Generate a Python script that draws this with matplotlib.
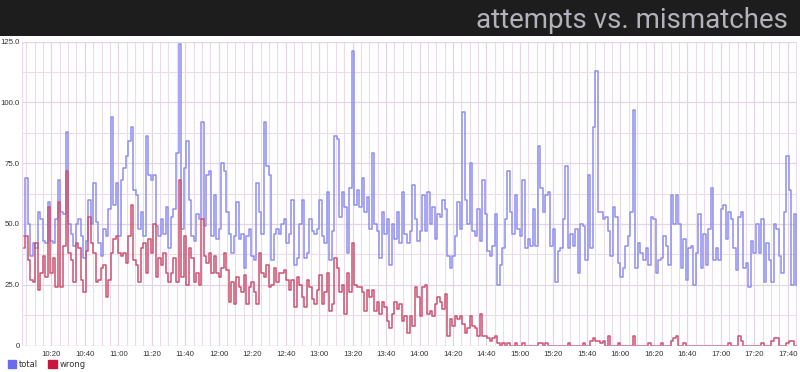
import numpy as np
import pandas as pd
import matplotlib
matplotlib.use("Agg")
import matplotlib.pyplot as plt
import matplotlib.dates as mdates
from matplotlib.patches import Patch

# samples every 90 seconds starting 10:03
start = "2013-01-01 10:03"
step = "90s"

total = [
    45, 69, 50, 37, 42, 40, 55, 52, 43, 42, 59, 43, 42, 52, 68, 55, 54, 88, 50, 46,
    41, 50, 52, 45, 36, 43, 60, 50, 67, 51, 42, 37, 48, 45, 56, 94, 58, 67, 45, 68,
    73, 78, 84, 90, 64, 62, 48, 55, 45, 86, 70, 68,
    70, 49, 45, 52, 46, 57, 40, 53, 56, 79, 124, 48, 73, 84, 60, 45, 43, 54, 52, 92,
    49, 70, 72, 45, 62, 44, 48, 75, 72, 55, 46, 38, 45, 59, 44, 46, 32, 45, 48, 37,
    35, 67, 55, 46, 92, 74, 70, 35, 46, 48, 46, 50,
    52, 42, 46, 60, 33, 36, 50, 60, 36, 38, 52, 47, 46, 48, 60, 45, 42, 63, 35, 47,
    86, 85, 53, 63, 57, 38, 65, 121, 58, 64, 57, 69, 55, 61, 48, 79, 50, 47, 36, 55,
    46, 52, 33, 50, 44, 55, 42, 63, 46, 42, 47, 66,
    52, 43, 47, 62, 47, 63, 50, 57, 44, 54, 53, 60, 56, 37, 32, 37, 45, 59, 48, 96,
    60, 50, 75, 47, 45, 56, 43, 68, 54, 39, 37, 41, 54, 25, 33, 40, 52, 72, 55, 46,
    62, 48, 45, 68, 40, 44, 41, 56, 41, 82, 65, 55,
    62, 63, 41, 48, 26, 39, 40, 52, 74, 40, 46, 41, 48, 30, 50, 49, 35, 70, 40, 90,
    113, 55, 55, 52, 53, 47, 37, 57, 53, 34, 28, 32, 41, 45, 55, 97, 32, 42, 38, 35,
    40, 33, 53, 52, 30, 35, 36, 45, 41, 33, 62, 50,
    62, 50, 32, 44, 27, 40, 41, 25, 38, 54, 32, 46, 33, 48, 65, 35, 40, 35, 56, 58,
    44, 55, 52, 40, 31, 53, 55, 32, 34, 24, 43, 38, 50, 38, 52, 26, 42, 35, 26, 50,
    48, 37, 30, 55, 78, 64, 25, 54, 25, 40, 26,
]

wrong = [
    40, 45, 35, 27, 26, 42, 23, 30, 37, 28, 57, 30, 36, 24, 59, 24, 41, 72, 38, 35,
    26, 42, 40, 27, 22, 39, 53, 42, 38, 26, 27, 32, 33, 20, 27, 38, 44, 45, 38, 37,
    38, 34, 45, 58, 35, 33, 26, 40, 42, 30, 44, 38,
    50, 28, 36, 33, 38, 30, 26, 30, 36, 26, 68, 28, 45, 25, 40, 36, 26, 30, 25, 52,
    37, 34, 38, 30, 37, 30, 28, 32, 38, 31, 18, 26, 17, 28, 24, 22, 29, 17, 24, 26,
    22, 17, 38, 30, 28, 33, 24, 25, 32, 26, 30, 30,
    31, 27, 23, 27, 16, 28, 25, 20, 16, 27, 24, 19, 17, 23, 29, 17, 22, 30, 14, 17,
    36, 32, 22, 25, 13, 30, 22, 42, 25, 24, 24, 22, 14, 23, 20, 23, 14, 18, 13, 18,
    16, 10, 7, 13, 18, 15, 17, 10, 12, 5, 12, 8,
    24, 20, 12, 24, 25, 13, 14, 12, 17, 20, 18, 15, 21, 4, 11, 8, 12, 11, 12, 9,
    5, 7, 12, 8, 7, 4, 13, 4, 4, 3, 2, 3, 4, 1, 0, 1, 0, 1, 0, 0,
    1, 0, 0, 1, 0, 0, 0, 0, 0, 1, 1, 0,
    1, 0, 0, 0, 0, 0, 0, 0, 0, 1, 0, 0, 0, 0, 0, 1, 0, 0, 2, 3,
    2, 2, 1, 2, 0, 4, 0, 0, 0, 1, 0, 0, 0, 0, 0, 4, 0, 0, 0, 0,
    0, 1, 0, 0, 0, 0, 1, 0, 0, 0, 2, 3,
    4, 0, 0, 1, 0, 0, 0, 0, 0, 0, 0, 0, 0, 0, 0, 0, 0, 0, 0, 0,
    0, 1, 0, 0, 0, 4, 2, 0, 0, 0, 0, 0, 0, 0, 1, 0, 0, 0, 2, 3,
    3, 0, 0, 0, 1, 2, 2, 0, 0, 0, 0,
]

yticks = [0, 25, 50, 75, 100, 125]
ytick_labels = ["0", "25.0", "50.0", "75.0", "100.0", "125.0"]
title = "attempts vs. mismatches"

times = pd.date_range(start, periods=len(total), freq=step)

fig = plt.figure(figsize=(8, 3.72), dpi=100)

# dark header band
hdr = fig.add_axes([0, 1 - 36 / 372, 1, 36 / 372])
hdr.set_facecolor("#1d1d1d")
hdr.set_xticks([])
hdr.set_yticks([])
for s in hdr.spines.values():
    s.set_visible(False)
hdr.text(0.985, 0.06, title, transform=hdr.transAxes, ha="right", va="bottom",
         fontsize=20, color="#b2b2ba", family="Roboto")

ax = fig.add_axes([22 / 800, 26.5 / 372, 775 / 800, 303.8 / 372])
grid_c = "#eadcea"
ax.step(times, total, where="post", color="#8f8ff0", lw=1.1)
ax.step(times, wrong, where="post", color="#cc5272", lw=1.1)

ax.set_ylim(0, 125)
ax.set_xlim(pd.Timestamp("2013-01-01 10:02:30"), pd.Timestamp("2013-01-01 17:45:30"))

ax.set_yticks(yticks)
ax.set_yticklabels(ytick_labels)
ax.set_yticks(np.arange(12.5, 125, 25), minor=True)
ax.xaxis.set_major_locator(mdates.MinuteLocator(byminute=[0, 20, 40]))
ax.xaxis.set_major_formatter(mdates.DateFormatter("%H:%M"))
ax.xaxis.set_minor_locator(mdates.MinuteLocator(byminute=range(0, 60, 5)))

ax.grid(True, which="major", color="#e2d6e2", lw=0.9)
ax.grid(True, which="minor", color=grid_c, lw=0.8)
ax.set_axisbelow(True)
ax.tick_params(which="both", length=0, labelsize=5.6, labelcolor="#333333")
ax.tick_params(axis="y", pad=1.5)
ax.tick_params(axis="x", pad=4)
for lab in ax.get_xticklabels() + ax.get_yticklabels():
    lab.set_family("Liberation Sans")
for s in ax.spines.values():
    s.set_visible(False)
ax.axvline(ax.get_xlim()[0], color=grid_c, lw=1)
ax.axhline(0, color=grid_c, lw=1)

handles = [Patch(facecolor="#6b6bee", edgecolor="#6b6bee", label="total"),
           Patch(facecolor="#c8163e", edgecolor="#c8163e", label="wrong")]
fig.legend(handles=handles, loc="lower left", bbox_to_anchor=(0.0, -0.012),
           ncol=2, frameon=False, fontsize=6, handlelength=1.0, handleheight=1.0,
           handletextpad=0.4, columnspacing=1.2, labelcolor="#333333")

fig.savefig("out.png", dpi=100, facecolor="white")
